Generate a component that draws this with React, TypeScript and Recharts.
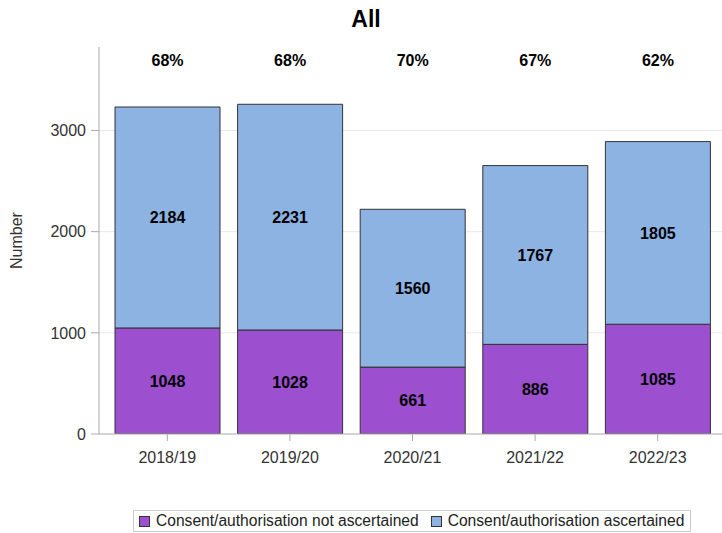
import React from 'react';
import { BarChart, Bar, XAxis, YAxis, CartesianGrid, LabelList } from 'recharts';

const categories = ['2018/19', '2019/20', '2020/21', '2021/22', '2022/23'];
const notAscertained = [1048, 1028, 661, 886, 1085];
const ascertained = [2184, 2231, 1560, 1767, 1805];
const percentLabels = ['68%', '68%', '70%', '67%', '62%'];
const yTicks = [0, 1000, 2000, 3000];

const seriesNames = ['Consent/authorisation not ascertained', 'Consent/authorisation ascertained'];
const PURPLE = '#9c50cf';
const BLUE = '#8db3e3';

const data = categories.map((c, i) => ({
  cat: c,
  notA: notAscertained[i],
  asc: ascertained[i],
  pct: percentLabels[i],
}));

const FONT = 'Arial, "Liberation Sans", Helvetica, sans-serif';

const PctLabel = (props: any) => {
  const { x, width, value } = props;
  return (
    <text x={x + width / 2} y={66} textAnchor="middle" fontSize={16} fontWeight="bold" fill="#000" fontFamily={FONT}>
      {value}
    </text>
  );
};

const YLabel = (props: any) => {
  const { viewBox } = props;
  const cy = viewBox.y + viewBox.height / 2;
  return (
    <text x={22} y={cy} transform={`rotate(-90, 22, ${cy})`} textAnchor="middle" fontSize={16} fill="#333" fontFamily={FONT}>
      Number
    </text>
  );
};

export default function App() {
  return (
    <div style={{ position: 'absolute', left: 0, top: 0, width: 722, height: 533, background: '#fff', fontFamily: FONT }}>
      <div style={{ position: 'absolute', left: 0, top: 6, width: 732, textAlign: 'center', fontSize: 23, fontWeight: 'bold', color: '#000' }}>
        All
      </div>
      <BarChart
        width={722}
        height={533}
        data={data}
        margin={{ top: 47, right: 0, left: 0, bottom: 59 }}
        barSize={105}
        style={{ fontFamily: FONT }}
      >
        <CartesianGrid vertical={false} stroke="#e8e8e8" horizontalValues={[1000, 2000, 3000]} />
        <XAxis
          dataKey="cat"
          height={40}
          padding={{ left: 7, right: 3 }}
          axisLine={{ stroke: '#aaa' }}
          tickLine={{ stroke: '#aaa' }}
          tickSize={7}
          tick={{ fill: '#333', fontSize: 16 }}
          tickMargin={11}
        />
        <YAxis
          width={99}
          domain={[0, 3825]}
          ticks={yTicks}
          allowDataOverflow
          axisLine={{ stroke: '#aaa' }}
          tickLine={{ stroke: '#aaa' }}
          tickSize={8}
          tickMargin={5}
          tick={{ fill: '#333', fontSize: 16 }}
          label={<YLabel />}
        />
        <Bar dataKey="notA" stackId="a" fill={PURPLE} stroke="#333" strokeWidth={1} isAnimationActive={false}>
          <LabelList dataKey="notA" position="center" fill="#000" fontSize={16} fontWeight="bold" />
        </Bar>
        <Bar dataKey="asc" stackId="a" fill={BLUE} stroke="#333" strokeWidth={1} isAnimationActive={false}>
          <LabelList dataKey="asc" position="center" fill="#000" fontSize={16} fontWeight="bold" />
          <LabelList dataKey="pct" content={<PctLabel />} />
        </Bar>
      </BarChart>
      <div
        style={{
          position: 'absolute',
          left: 133,
          top: 510,
          height: 20,
          border: '1px solid #ccc',
          display: 'flex',
          alignItems: 'center',
          padding: '0 6px 0 5px',
          fontSize: 15.6,
          color: '#222',
          whiteSpace: 'nowrap',
        }}
      >
        {seriesNames.map((n, i) => (
          <span key={n} style={{ display: 'flex', alignItems: 'center', marginRight: i === 0 ? 12 : 0 }}>
            <span style={{ display: 'inline-block', width: 9, height: 9, background: i === 0 ? PURPLE : BLUE, border: '1px solid #333', marginRight: 6 }} />
            {n}
          </span>
        ))}
      </div>
    </div>
  );
}
